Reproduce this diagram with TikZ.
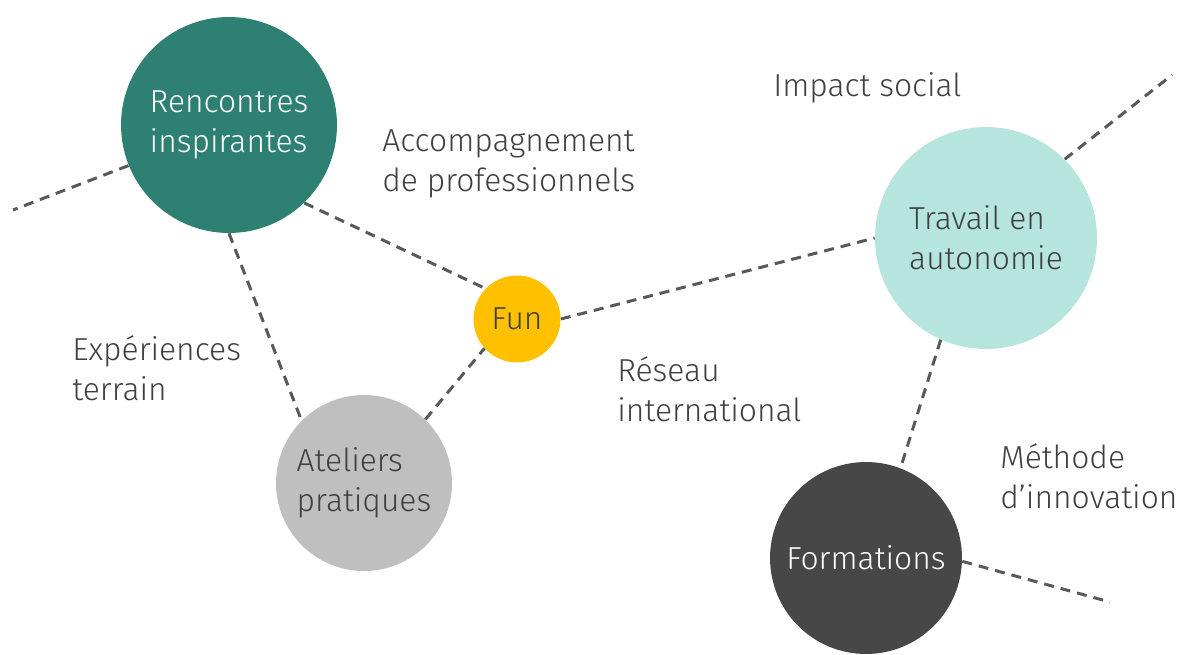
\documentclass[tikz,border=0pt]{standalone}
\usepackage{fontspec}
\setmainfont{Fira Sans Light}

\definecolor{deepteal}{HTML}{2E8073}
\definecolor{mint}{HTML}{B5E5DD}
\definecolor{sunyellow}{HTML}{FFC000}
\definecolor{softgray}{HTML}{BFBFBF}
\definecolor{charcoal}{HTML}{474747}
\definecolor{textgray}{HTML}{404040}
\definecolor{linegray}{HTML}{595959}

\newcommand{\bubblefont}{\fontsize{18.1}{22.9}\selectfont}

\tikzset{
  bubble/.style={circle, inner sep=0pt, minimum size=#1, align=left, font=\bubblefont},
  tagtext/.style={inner sep=0pt, anchor=west, align=left, text=textgray, font=\bubblefont},
  link/.style={draw=linegray, line width=1.7pt, dash pattern=on 0.2cm off 0.14cm}
}

\begin{document}
\begin{tikzpicture}[x=0.02cm, y=-0.02cm]
\useasboundingbox (0,0) rectangle (1179,655);

% circles
\node[bubble=4.32cm, fill=deepteal, text=white] (rencontres) at (229,125) {Rencontres\\inspirantes};
\node[bubble=1.74cm, fill=sunyellow, text=textgray] (fun) at (517,319) {Fun};
\node[bubble=3.52cm, fill=softgray, text=textgray] (ateliers) at (364,483) {Ateliers\\pratiques};
\node[bubble=4.44cm, fill=mint, text=textgray] (travail) at (986,238) {Travail en\\autonomie};
\node[bubble=3.84cm, fill=charcoal, text=white] (formations) at (866,558) {Formations};

% free ends
\coordinate (leftend) at (13,210);
\coordinate (topend) at (1172,75);
\coordinate (rightend) at (1110,602);

% labels
\node[tagtext] (impact) at (773,88) {Impact social};
\node[tagtext] (accomp) at (382,164) {Accompagnement\\de professionnels};
\node[tagtext] (experiences) at (72,368) {Expériences\\terrain};
\node[tagtext] (reseau) at (617,389) {Réseau\\international};
\node[tagtext] (methode) at (1000,476) {Méthode\\d’innovation};

% dashed links
\foreach \a/\b in {rencontres.202/leftend, rencontres.-46/fun.136,
    rencontres.-90/ateliers.135, ateliers.46/fun.222, fun.east/travail.west,
    travail.45/topend, travail.246/formations.69, formations.-2/rightend}
  \draw[link] (\a) -- (\b);
\end{tikzpicture}
\end{document}
